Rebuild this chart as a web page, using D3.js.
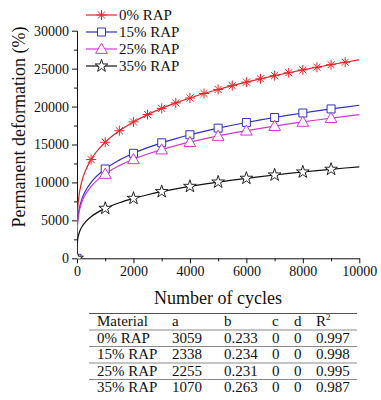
<!DOCTYPE html>
<html>
<head>
<meta charset="utf-8">
<script src="https://cdn.jsdelivr.net/npm/d3@7"></script>
<style>
  html, body { margin: 0; padding: 0; background: #fff; }
  svg { display: block; }
  svg text { font-family: "Liberation Serif", "Times New Roman", Times, serif; }
</style>
</head>
<body>
<svg id="chart" width="381" height="400"></svg>
<script>
// ---------- data ----------
const cycles = [0, 1, 5, 10, 25, 50, 100, 200, 300, 500,
  1000, 1500, 2000, 2500, 3000, 3500, 4000, 4500, 5000, 5500,
  6000, 6500, 7000, 7500, 8000, 8500, 9000, 9500, 10000];
const rap0 = [0, 3059, 4451, 5231, 6476, 7611, 8945, 10513, 11555, 13015,
  15297, 16813, 17978, 18938, 19760, 20482, 21129, 21717, 22255, 22755,
  23222, 23658, 24071, 24461, 24831, 25184, 25523, 25845, 26156];
const rap15 = [0, 2338, 3407, 4007, 4965, 5840, 6868, 8078, 8882, 10009,
  11772, 12943, 13844, 14586, 15223, 15783, 16283, 16739, 17155, 17542,
  17904, 18242, 18562, 18863, 19150, 19424, 19686, 19936, 20176];
const rap25 = [0, 2255, 3270, 3838, 4743, 5567, 6534, 7668, 8421, 9475,
  11121, 12212, 13052, 13742, 14334, 14854, 15318, 15741, 16129, 16488,
  16823, 17137, 17433, 17712, 17978, 18231, 18476, 18706, 18930];
const rap35 = [0, 1070, 1634, 1961, 2495, 2994, 3593, 4311, 4796, 5485,
  6583, 7323, 7898, 8376, 8788, 9151, 9478, 9776, 10051, 10306,
  10545, 10769, 10981, 11183, 11373, 11557, 11731, 11899, 12061];
const markerCyclesDense = [0, 500, 1000, 1500, 2000, 2500, 3000, 3500, 4000, 4500,
  5000, 5500, 6000, 6500, 7000, 7500, 8000, 8500, 9000, 9500];
const markerCyclesSparse = [0, 1000, 2000, 3000, 4000, 5000, 6000, 7000, 8000, 9000];
const seriesNames = ["0% RAP", "15% RAP", "25% RAP", "35% RAP"];
const xTicks = [0, 2000, 4000, 6000, 8000, 10000];
const yTicks = [0, 5000, 10000, 15000, 20000, 25000, 30000];
const xMinorTicks = [1000, 3000, 5000, 7000, 9000];
const yMinorTicks = [2500, 7500, 12500, 17500, 22500, 27500];
const tableHeader = ["Material", "a", "b", "c", "d", "R"];
const tableA = ["3059", "2338", "2255", "1070"];
const tableB = ["0.233", "0.234", "0.231", "0.263"];
const tableC = ["0", "0", "0", "0"];
const tableD = ["0", "0", "0", "0"];
const tableR2 = ["0.997", "0.998", "0.995", "0.987"];

// ---------- setup ----------
const svg = d3.select("#chart");
const x = d3.scaleLinear().domain([0, 10000]).range([77, 359.3]);
const y = d3.scaleLinear().domain([0, 30000]).range([258.3, 30.7]);
const SERIF = "'Liberation Serif', 'Times New Roman', Times, serif";

const styles = [
  { color: "#e3262a", marker: "asterisk", markers: markerCyclesDense },
  { color: "#3030c8", marker: "square", markers: markerCyclesSparse },
  { color: "#d03ad0", marker: "triangle", markers: markerCyclesSparse },
  { color: "#111111", marker: "star", markers: markerCyclesSparse }
];
const allValues = [rap0, rap15, rap25, rap35];

svg.append("defs").append("clipPath").attr("id", "plotClip")
  .append("rect").attr("x", x(0)).attr("y", 0)
  .attr("width", x(10000) - x(0) + 20).attr("height", y(0));

// ---------- axes ----------
const fmt = d3.format("d");
const xAxis = svg.append("g").attr("transform", `translate(0,${y(0)})`)
  .call(d3.axisBottom(x).tickValues(xTicks).tickFormat(fmt).tickSize(5).tickSizeOuter(0).tickPadding(3));
const yAxis = svg.append("g").attr("transform", `translate(${x(0)},0)`)
  .call(d3.axisLeft(y).tickValues(yTicks).tickFormat(fmt).tickSize(5).tickSizeOuter(0).tickPadding(3));
[xAxis, yAxis].forEach(g => {
  g.attr("font-family", SERIF);
  g.selectAll("text").attr("font-size", 14).attr("fill", "#111");
  g.selectAll("line, path").attr("stroke", "#111").attr("stroke-width", 1);
});
svg.append("g").attr("transform", `translate(0,${y(0)})`)
  .call(d3.axisBottom(x).tickValues(xMinorTicks).tickSize(3).tickSizeOuter(0).tickFormat(""))
  .call(g => g.select(".domain").remove())
  .selectAll("line").attr("stroke", "#111");
svg.append("g").attr("transform", `translate(${x(0)},0)`)
  .call(d3.axisLeft(y).tickValues(yMinorTicks).tickSize(3).tickSizeOuter(0).tickFormat(""))
  .call(g => g.select(".domain").remove())
  .selectAll("line").attr("stroke", "#111");

// axis titles
svg.append("text").attr("x", 218).attr("y", 304).attr("text-anchor", "middle")
  .attr("font-size", 18).attr("fill", "#111").text("Number of cycles");
svg.append("text").attr("transform", "translate(25,127) rotate(-90)")
  .attr("text-anchor", "middle").attr("font-size", 18).attr("fill", "#111")
  .text("Permanent deformation (%)");

// ---------- markers ----------
function drawMarker(g, type, color) {
  if (type === "asterisk") {
    const r = 5;
    let d = "";
    [0, 45, 90, 135].forEach(a => {
      const rad = a * Math.PI / 180;
      const dx = r * Math.cos(rad), dy = r * Math.sin(rad);
      d += `M${-dx},${-dy}L${dx},${dy}`;
    });
    g.append("path").attr("d", d).attr("stroke", color).attr("stroke-width", 1).attr("fill", "none");
  } else if (type === "square") {
    g.append("path").attr("d", d3.symbol(d3.symbolSquare, 64)())
      .attr("fill", "#fff").attr("stroke", color).attr("stroke-width", 1);
  } else if (type === "triangle") {
    g.append("path").attr("d", d3.symbol(d3.symbolTriangle, 60)()).attr("transform", "translate(0,1)")
      .attr("fill", "#fff").attr("stroke", color).attr("stroke-width", 1);
  } else if (type === "star") {
    g.append("path").attr("d", d3.symbol(d3.symbolStar, 50)())
      .attr("fill", "#fff").attr("stroke", color).attr("stroke-width", 0.9);
  }
}

// ---------- lines ----------
const plot = svg.append("g").attr("clip-path", "url(#plotClip)");
const line = d3.line().x(d => x(d[0])).y(d => y(d[1])).curve(d3.curveMonotoneX);
allValues.forEach((vals, i) => {
  const pts = cycles.map((c, k) => [c, vals[k]]);
  plot.append("path").datum(pts).attr("d", line)
    .attr("fill", "none").attr("stroke", styles[i].color).attr("stroke-width", 1.2);
});
allValues.forEach((vals, i) => {
  styles[i].markers.forEach(c => {
    const k = cycles.indexOf(c);
    const g = plot.append("g").attr("transform", `translate(${x(c)},${y(vals[k])})`);
    drawMarker(g, styles[i].marker, styles[i].color);
  });
});

// ---------- legend ----------
const legendY = [15, 32, 49, 66];
seriesNames.forEach((name, i) => {
  const g = svg.append("g").attr("transform", `translate(0,${legendY[i]})`);
  g.append("line").attr("x1", 86).attr("x2", 117).attr("y1", 0).attr("y2", 0)
    .attr("stroke", styles[i].color).attr("stroke-width", 1.2);
  const mg = g.append("g").attr("transform", "translate(101.5,0)");
  drawMarker(mg, styles[i].marker, styles[i].color);
  g.append("text").attr("x", 119).attr("y", 5).attr("font-size", 15).attr("fill", "#111").text(name);
});

// ---------- table ----------
const colX = [97, 172, 224, 272, 294, 316];
const lineYs = [313.5, 330, 346.5, 363, 379.5];
const rowBase = [326, 342.5, 359, 375.5, 392];
lineYs.forEach((ly, i) => {
  svg.append("line").attr("x1", 89).attr("x2", 357).attr("y1", ly).attr("y2", ly)
    .attr("stroke", i === 0 ? "#555" : "#8a8a8a").attr("stroke-width", 1);
});
const tf = 15;
tableHeader.forEach((h, j) => {
  const t = svg.append("text").attr("x", colX[j]).attr("y", rowBase[0])
    .attr("font-size", tf).attr("fill", "#111").text(h);
  if (h === "R") t.append("tspan").attr("dy", -6).attr("font-size", 9).text("2");
});
seriesNames.forEach((name, i) => {
  const row = [name, tableA[i], tableB[i], tableC[i], tableD[i], tableR2[i]];
  row.forEach((v, j) => {
    svg.append("text").attr("x", colX[j]).attr("y", rowBase[i + 1])
      .attr("font-size", tf).attr("fill", "#111").text(v);
  });
});
</script>
</body>
</html>
